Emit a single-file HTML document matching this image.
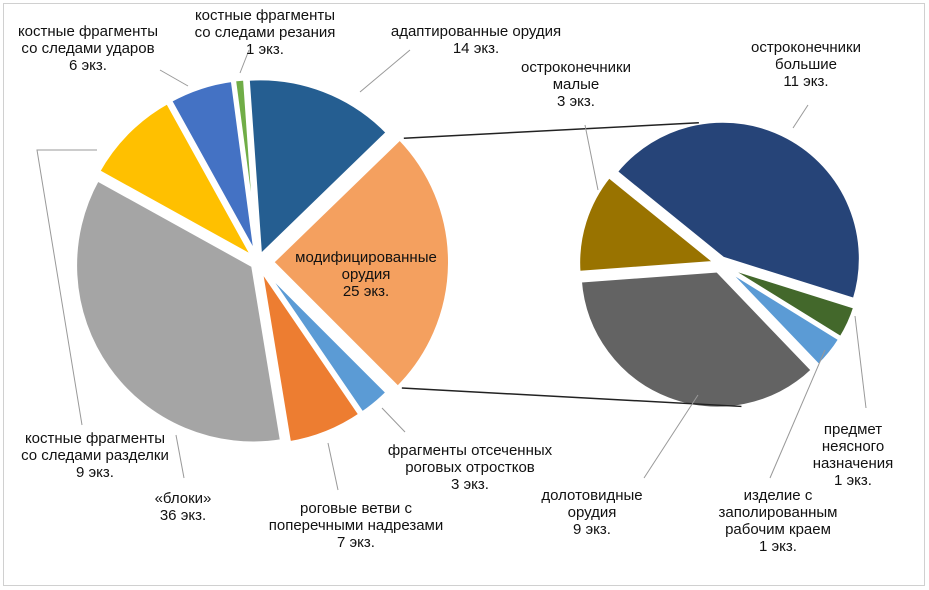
<!DOCTYPE html>
<html><head><meta charset="utf-8"><style>
body{margin:0;background:#fff}
svg{display:block}
text{font-family:"Liberation Sans",sans-serif;font-size:15px;fill:#111}
</style></head><body>
<svg id="c" width="929" height="590">
<rect x="3.5" y="3.5" width="921" height="582" fill="#fff" stroke="#d0d0d0"/>
</svg>
<script>
const mainLabels=[["адаптированные орудия","14 экз."],["модифицированные","орудия","25 экз."],["фрагменты отсеченных","роговых отростков","3 экз."],["роговые ветви с","поперечными надрезами","7 экз."],["«блоки»","36 экз."],["костные фрагменты","со следами разделки","9 экз."],["костные фрагменты","со следами ударов","6 экз."],["костные фрагменты","со следами резания","1 экз."]];
const mainValues=[14,25,3,7,36,9,6,1];
const subLabels=[["остроконечники","большие","11 экз."],["предмет","неясного","назначения","1 экз."],["изделие с","заполированным","рабочим краем","1 экз."],["долотовидные","орудия","9 экз."],["остроконечники","малые","3 экз."]];
const subValues=[11,1,1,9,3];
const mainColors=["#255e91","#f4a05f","#5b9bd5","#ed7d31","#a5a5a5","#ffc000","#4472c4","#70ad47"];
const subColors=["#264478","#43682b","#5b9bd5","#636363","#997300"];
const NS="http://www.w3.org/2000/svg",svg=document.getElementById('c');
function mk(t,a,p){const e=document.createElementNS(NS,t);for(const k in a)e.setAttribute(k,a[k]);(p||svg).appendChild(e);return e;}
function pt(cx,cy,r,a){const t=(a-90)*Math.PI/180;return[cx+r*Math.cos(t),cy+r*Math.sin(t)];}
function pie(vals,colors,cx,cy,r,start,explode,name){
 const tot=vals.reduce((a,b)=>a+b,0);let a=start;const res=[];
 vals.forEach((v,i)=>{const sw=v/tot*360,mid=a+sw/2,ex=explode(i);
  const [ox,oy]=pt(0,0,ex,mid);const c=[cx+ox,cy+oy];
  const p1=pt(c[0],c[1],r,a),p2=pt(c[0],c[1],r,a+sw);
  const p=mk('path',{d:`M${c[0]},${c[1]}L${p1[0]},${p1[1]}A${r},${r} 0 ${sw>180?1:0} 1 ${p2[0]},${p2[1]}Z`,fill:colors[i],stroke:'#fff','stroke-width':4,'stroke-linejoin':'round'});
  
  
  res.push({c,a0:a,a1:a+sw,mid});a+=sw;});
 return res;}
const M=pie(mainValues,mainColors,258,262,178,-4,i=>i==1?14:6,'main');
const S=pie(subValues,subColors,720,264,138,-51,i=>i==0?6:(i==3?7:4),'sub');
const mt=pt(M[1].c[0],M[1].c[1],178,M[1].a0),mb=pt(M[1].c[0],M[1].c[1],178,M[1].a1);
const st=pt(S[0].c[0],S[0].c[1],138,-10),sb=pt(S[3].c[0],S[3].c[1],138,170);
let l=mk('line',{x1:mt[0]+4,y1:mt[1],x2:st[0],y2:st[1],stroke:'#222','stroke-width':1.5});

l=mk('line',{x1:mb[0]+4,y1:mb[1],x2:sb[0],y2:sb[1],stroke:'#222','stroke-width':1.5});

const mainPos=[[476,36,[[360,92],[410,50]]],[366,262,null],[470,455,[[382,408],[405,432]]],[356,513,[[328,443],[338,490]]],[183,503,[[176,435],[184,478]]],[95,443,[[97,150],[37,150],[82,425]]],[88,36,[[188,86],[160,70]]],[265,20,[[240,73],[249,50]]]];
const subPos=[[806,52,[[793,128],[808,105]]],[853,434,[[855,316],[866,408]]],[778,500,[[825,350],[770,478]]],[592,500,[[698,395],[644,478]]],[576,72,[[598,190],[585,125]]]];
function labels(L,P,name){L.forEach((lines,i)=>{const [x,y,ld]=P[i];
 if(ld){const pl=mk('polyline',{points:ld.map(p=>p.join(',')).join(' '),fill:'none',stroke:'#999','stroke-width':1});
  }
 const t=mk('text',{x:x,y:y,'text-anchor':'middle'});
 
 lines.forEach((s,j)=>{const ts=mk('tspan',{x:x,dy:j?17:0},t);ts.textContent=s;});});}
labels(mainLabels,mainPos,'main');labels(subLabels,subPos,'sub');
</script>
</body></html>
